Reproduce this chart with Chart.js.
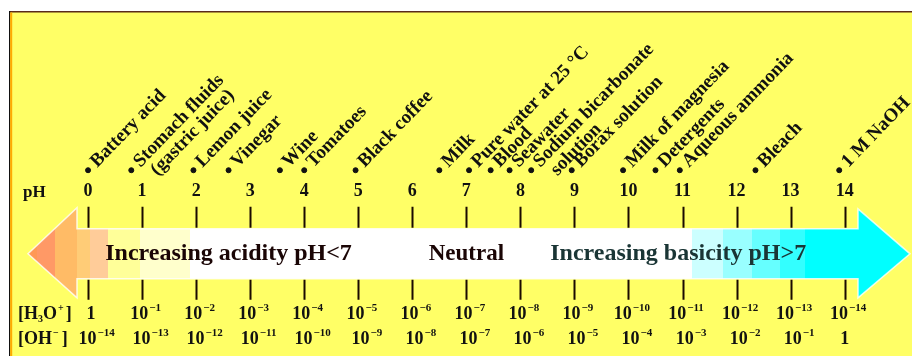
<!DOCTYPE html>
<html>
<head>
<meta charset="utf-8">
<script src="https://cdn.jsdelivr.net/npm/chart.js@4"></script>
<style>
  body { margin: 0; background: #fff; }
  canvas { display: block; }
</style>
</head>
<body>
<canvas id="chartPH" width="912" height="356"></canvas>
<script>
// datos
let escalaPH = [0, 1, 2, 3, 4, 5, 6, 7, 8, 9, 10, 11, 12, 13, 14]
let sustancias = ['Battery acid', 'Stomach fluids\n(gastric juice)', 'Lemon juice', 'Vinegar', 'Wine', 'Tomatoes',
    'Black coffee', 'Milk', 'Pure water at 25 °C', 'Blood', 'Seawater', 'Sodium bicarbonate\nsolution',
    'Borax solution', 'Milk of magnesia', 'Detergents', 'Aqueous ammonia', 'Bleach', '1 M NaOH']
let phSustancias = [0, 0.8, 1.95, 2.6, 3.55, 4.0, 4.95, 6.5, 7.05, 7.45, 7.8, 8.2, 8.95, 9.9, 10.5, 10.95, 12.35, 13.9]
let expH3O = [0, -1, -2, -3, -4, -5, -6, -7, -8, -9, -10, -11, -12, -13, -14]
let expOH = [-14, -13, -12, -11, -10, -9, -8, -7, -6, -5, -4, -3, -2, -1, 0]
let textoAcido = 'Increasing acidity pH<7'
let textoNeutro = 'Neutral'
let textoBasico = 'Increasing basicity pH>7'

// filas del diagrama (eje y invertido)
let filaPuntos = 170
let filaNumeros = 192
let filaFlecha = 256
let filaH3O = 318
let filaOH = 344

const fuente = '"Liberation Serif", "Times New Roman", serif'

function potencia(ctx, x, y, exp, size) {
    // escribe 10^exp centrado en x
    ctx.textBaseline = 'middle'
    if (exp === 0) {
        ctx.font = 'bold ' + size + 'px ' + fuente
        ctx.textAlign = 'center'
        ctx.fillText('1', x, y)
        return
    }
    let sup = '\u2212' + Math.abs(exp)
    let chica = Math.round(size * 0.6)
    ctx.font = 'bold ' + size + 'px ' + fuente
    let w1 = ctx.measureText('10').width
    ctx.font = 'bold ' + chica + 'px ' + fuente
    let w2 = ctx.measureText(sup).width
    let x0 = x - (w1 + w2) / 2
    ctx.textAlign = 'left'
    ctx.font = 'bold ' + size + 'px ' + fuente
    ctx.fillText('10', x0, y)
    ctx.font = 'bold ' + chica + 'px ' + fuente
    ctx.fillText(sup, x0 + w1 + 1, y - size * 0.32)
}

const diagrama = {
    id: 'diagrama',
    beforeDraw(chart) {
        const ctx = chart.ctx
        ctx.save()
        ctx.fillStyle = '#ffffff'
        ctx.fillRect(0, 0, chart.width, chart.height)
        ctx.fillStyle = '#ffff66'
        ctx.fillRect(10, 12, chart.width - 10, chart.height - 12)
        ctx.fillStyle = '#5a2a1a'
        ctx.fillRect(9, 11, chart.width - 9, 1.5)
        ctx.fillStyle = '#111'
        ctx.fillRect(9, 11, 1.2, chart.height - 11)
        ctx.fillStyle = '#ffaa00'
        ctx.fillRect(10.2, 12.5, 2, chart.height - 12.5)
        ctx.restore()
    },
    afterDatasetsDraw(chart) {
        const ctx = chart.ctx
        const xs = chart.scales.x
        const ys = chart.scales.y
        const W = chart.width
        ctx.save()

        // flecha
        let yc = ys.getPixelForValue(filaFlecha)
        let cuerpoArr = yc - 25, cuerpoAba = yc + 25
        let puntaIzq = 28, baseIzq = 77, baseDer = 858, puntaDer = 910
        let g = ctx.createLinearGradient(0, 0, W, 0)
        let bandas = [
            [0, '#ff9955'], [37, '#ff9966'], [55, '#ffbb66'], [77, '#ffcc77'], [90, '#ffcc99'],
            [108, '#ffff99'], [140, '#ffffcc'], [190, '#ffffff'], [692, '#ccffff'], [723, '#99ffff'],
            [752, '#66ffff'], [780, '#33ffff'], [805, '#00ffff'], [912, '#00ffff']
        ]
        for (let i = 0; i < bandas.length; i++) {
            g.addColorStop(bandas[i][0] / W, bandas[i][1])
            if (i + 1 < bandas.length) g.addColorStop(Math.max(0, bandas[i + 1][0] - 0.5) / W, bandas[i][1])
        }
        ctx.beginPath()
        ctx.moveTo(puntaIzq, yc)
        ctx.lineTo(baseIzq, yc - 46)
        ctx.lineTo(baseIzq, cuerpoArr)
        ctx.lineTo(baseDer, cuerpoArr)
        ctx.lineTo(baseDer, yc - 45)
        ctx.lineTo(puntaDer, yc)
        ctx.lineTo(baseDer, yc + 44)
        ctx.lineTo(baseDer, cuerpoAba)
        ctx.lineTo(baseIzq, cuerpoAba)
        ctx.lineTo(baseIzq, yc + 44)
        ctx.closePath()
        ctx.fillStyle = g
        ctx.fill()
        ctx.strokeStyle = 'rgba(255,255,255,0.8)'
        ctx.lineWidth = 1.5
        ctx.stroke()

        // marcas de escala
        ctx.strokeStyle = '#1a0a00'
        ctx.lineWidth = 2
        escalaPH.forEach(v => {
            let x = Math.round(xs.getPixelForValue(v)) + 0.5
            ctx.beginPath()
            ctx.moveTo(x, yc - 47); ctx.lineTo(x, cuerpoArr - 1)
            ctx.moveTo(x, cuerpoAba + 1); ctx.lineTo(x, yc + 46)
            ctx.stroke()
        })

        // textos de la flecha
        ctx.font = 'bold 24px ' + fuente
        ctx.textAlign = 'center'
        ctx.textBaseline = 'middle'
        ctx.fillStyle = '#1a0505'
        ctx.fillText(textoAcido, xs.getPixelForValue(2.6), yc)
        ctx.font = 'bold 23px ' + fuente
        ctx.fillText(textoNeutro, xs.getPixelForValue(7.0), yc)
        ctx.font = 'bold 24px ' + fuente
        ctx.fillStyle = '#1a3535'
        ctx.fillText(textoBasico, xs.getPixelForValue(10.92), yc)

        // numeros pH
        ctx.fillStyle = '#111'
        ctx.font = 'bold 18px ' + fuente
        let yn = ys.getPixelForValue(filaNumeros)
        escalaPH.forEach(v => ctx.fillText(String(v), xs.getPixelForValue(v), yn))
        ctx.textAlign = 'left'
        ctx.font = 'bold 17px ' + fuente
        ctx.fillText('pH', 23, yn + 1)

        // concentraciones
        let yh = ys.getPixelForValue(filaH3O)
        let yo = ys.getPixelForValue(filaOH)
        escalaPH.forEach((v, i) => {
            let x = xs.getPixelForValue(v) + 3
            potencia(ctx, x, yh, expH3O[i], 18)
            let xo = xs.getPixelForValue(v) + 8
            if (expOH[i] === 0) xo = xs.getPixelForValue(v)
            potencia(ctx, xo, yo, expOH[i], 18)
        })
        // etiquetas de fila
        ctx.textAlign = 'left'
        ctx.font = 'bold 18px ' + fuente
        let x = 18
        ctx.fillText('[H', x, yh); x += ctx.measureText('[H').width
        ctx.font = 'bold 10px ' + fuente
        ctx.fillText('3', x, yh + 5); x += ctx.measureText('3').width
        ctx.font = 'bold 18px ' + fuente
        ctx.fillText('O', x, yh); x += ctx.measureText('O').width
        ctx.font = 'bold 10px ' + fuente
        ctx.fillText('+', x + 1, yh - 6); x += ctx.measureText('+').width + 3
        ctx.font = 'bold 18px ' + fuente
        ctx.fillText(']', x, yh)
        x = 18
        ctx.fillText('[OH', x, yo); x += ctx.measureText('[OH').width
        ctx.font = 'bold 10px ' + fuente
        ctx.fillText('\u2212', x + 1, yo - 6); x += ctx.measureText('\u2212').width + 4
        ctx.font = 'bold 18px ' + fuente
        ctx.fillText(']', x, yo)

        // sustancias giradas
        let ang = -46 * Math.PI / 180
        let yp = ys.getPixelForValue(filaPuntos)
        ctx.font = 'bold 19px ' + fuente
        ctx.textBaseline = 'alphabetic'
        sustancias.forEach((s, i) => {
            let px = xs.getPixelForValue(phSustancias[i])
            ctx.save()
            ctx.translate(px, yp)
            ctx.rotate(ang)
            let lineas = s.split('\n')
            ctx.fillText(lineas[0], 8, 5)
            if (lineas[1]) ctx.fillText(lineas[1], 14, 23)
            ctx.restore()
        })
        ctx.restore()
    }
}

new Chart(document.getElementById('chartPH'), {
    type: 'scatter',
    data: {
        datasets: [{
            data: phSustancias.map(v => ({ x: v, y: filaPuntos })),
            backgroundColor: '#111',
            borderColor: '#111',
            pointRadius: 2.5
        }]
    },
    options: {
        responsive: false,
        animation: false,
        layout: { padding: 0 },
        plugins: { legend: { display: false }, tooltip: { enabled: false } },
        scales: {
            x: { type: 'linear', display: false, min: -1.537, max: 15.154 },
            y: { type: 'linear', display: false, min: 0, max: 356, reverse: true }
        }
    },
    plugins: [diagrama]
})
</script>
</body>
</html>
